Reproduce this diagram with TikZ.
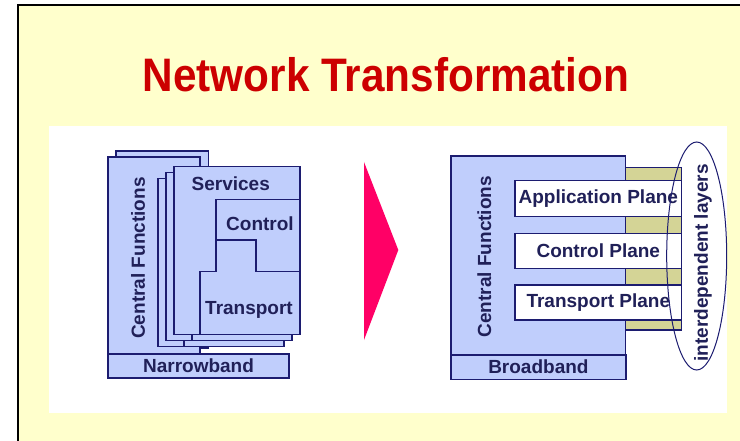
\documentclass[tikz,border=0pt]{standalone}
\usepackage{fontspec}
\setmainfont{Liberation Sans}
\usetikzlibrary{positioning}
\definecolor{SlideYellow}{RGB}{255,255,204}
\definecolor{TitleRed}{RGB}{204,0,0}
\definecolor{PaleBlue}{RGB}{192,206,252}
\definecolor{DeepNavy}{RGB}{28,28,112}
\definecolor{TextNavy}{RGB}{32,32,88}
\definecolor{LayerKhaki}{RGB}{212,212,150}
\definecolor{ArrowPink}{RGB}{255,0,102}
\tikzset{
  panel/.style={draw=DeepNavy,line width=1.5pt,fill=PaleBlue},
  plane/.style={draw=DeepNavy,line width=1.5pt,fill=white},
  lbl/.style={text=TextNavy,font=\bfseries\fontsize{19}{19}\selectfont,inner sep=0pt},
}
\begin{document}
\begin{tikzpicture}[x=1pt,y=-1pt]
  \useasboundingbox (0,0) rectangle (740,441);
  \fill[SlideYellow] (18,5) rectangle (740,441);
  \draw[line width=2pt] (18,441)--(18,5)--(740,5);
  \node[TitleRed,font=\bfseries\fontsize{47}{47}\selectfont,xscale=0.9] (title) at (386,75) {Network Transformation};
  \fill[white] (49,126) rectangle (727,413);
  % narrowband
  \draw[panel] (116,151) rectangle (208.5,348);
  \draw[panel] (108,157) rectangle (200,354);
  \foreach \d in {2,1,0}{
    \begin{scope}[shift={(-8*\d,6*\d)}]
      \draw[panel] (174,166.7) rectangle (300,334.3);
      \draw[DeepNavy,line width=1.5pt] (300,199.3)--(216,199.3)--(216,271.7)--(200,271.7)--(200,334.3)
        (216,240)--(256,240)--(256,271.7)--(300,271.7);
    \end{scope}
  }
  \node[panel,lbl,minimum width=181pt,minimum height=24pt] (narrow) at (198.5,366) {Narrowband};
  \node[lbl,rotate=90] (cfleft) at (138,258) {Central Functions};
  \node[lbl] (services) at (230.8,183.3) {Services};
  \node[lbl] (control) at (260,223.3) {Control};
  \node[lbl] (transport) at (249,310) {Transport};
  % arrow
  \fill[ArrowPink] (364,162)--(398.3,250)--(364,340)--cycle;
  % broadband
  \draw[panel,fill=LayerKhaki] (620,167.3) rectangle (681.7,330);
  \draw[panel] (451,156) rectangle (625.7,355);
  \node[panel,lbl,minimum width=174.7pt,minimum height=24.3pt] (broad) at (538.4,367.2) {Broadband};
  \node[lbl,rotate=90] (cfright) at (484.3,256.7) {Central Functions};
  \node[plane,lbl,minimum width=166.7pt,minimum height=36pt] (app) at (598.3,198.7) {Application Plane};
  \node[plane,lbl,minimum width=166.7pt,minimum height=35pt] (ctrl) at (598.3,250.8) {Control Plane};
  \node[plane,lbl,minimum width=166.7pt,minimum height=35pt] (trans) at (598.3,302.5) {Transport Plane};
  \draw[DeepNavy,line width=1pt] (696.7,256) ellipse [x radius=30,y radius=114];
  \node[lbl,rotate=90] (layers) at (703,263) {interdependent layers};
\end{tikzpicture}
\end{document}
